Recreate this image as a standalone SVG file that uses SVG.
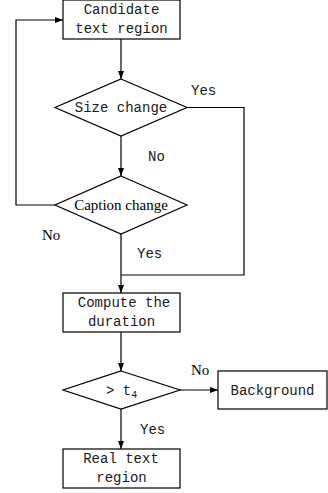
<svg xmlns="http://www.w3.org/2000/svg" width="328" height="493" viewBox="0 0 328 493">
<style>
.box{fill:#fff;stroke:#000;stroke-width:1.2}
.ln{fill:none;stroke:#000;stroke-width:1.2}
.m{font-family:"Liberation Mono",monospace;font-size:14px;fill:#1a1a1a}
.s{font-family:"Liberation Serif",serif;font-size:15px;fill:#000}
</style>
<defs>
<marker id="ah" viewBox="0 0 8 6" refX="8" refY="3" markerWidth="8" markerHeight="6" markerUnits="userSpaceOnUse" orient="auto">
<path d="M0,0 L8,3 L0,6 Z" fill="#000"/>
</marker>
</defs>
<rect width="328" height="493" fill="#fff"/>
<g id="connectors">
<line class="ln" x1="121" y1="39" x2="121" y2="79" marker-end="url(#ah)"/>
<line class="ln" x1="121" y1="136" x2="121" y2="176" marker-end="url(#ah)"/>
<polyline class="ln" points="187,107.5 244,107.5 244,275 121,275"/>
<polyline class="ln" points="55,205 16,205 16,20 63,20" marker-end="url(#ah)"/>
<line class="ln" x1="121" y1="234" x2="121" y2="293" marker-end="url(#ah)"/>
<line class="ln" x1="121" y1="332" x2="121" y2="371" marker-end="url(#ah)"/>
<line class="ln" x1="180" y1="390" x2="218" y2="390" marker-end="url(#ah)"/>
<line class="ln" x1="121" y1="409" x2="121" y2="449" marker-end="url(#ah)"/>
<text class="m" x="191" y="95">Yes</text>
<text class="m" x="148" y="161">No</text>
<text class="s" x="42" y="240">No</text>
<text class="m" x="137" y="258">Yes</text>
<text class="s" x="191" y="375">No</text>
<text class="m" x="140" y="434">Yes</text>
</g>
<g id="candidate">
<rect class="box" x="63" y="0" width="117" height="39"/>
<text class="m" x="121.5" y="14" text-anchor="middle">Candidate</text>
<text class="m" x="121.5" y="33" text-anchor="middle">text region</text>
</g>
<g id="size-change">
<polygon class="box" points="121,79 187,107.5 121,136 55,107.5"/>
<text class="m" x="121" y="112" text-anchor="middle">Size change</text>
</g>
<g id="caption-change">
<polygon class="box" points="121,176 187,205 121,234 55,205"/>
<text class="s" x="121" y="210" text-anchor="middle">Caption change</text>
</g>
<g id="compute">
<rect class="box" x="63" y="293" width="117" height="39"/>
<text class="m" x="124" y="307" text-anchor="middle">Compute the</text>
<text class="m" x="121.5" y="326" text-anchor="middle">duration</text>
</g>
<g id="threshold">
<polygon class="box" points="121,371 180,390 121,409 63,390"/>
<text class="m" x="106" y="395">&gt; t<tspan font-size="10" dy="3">4</tspan></text>
</g>
<g id="background">
<rect class="box" x="218" y="371" width="109" height="38"/>
<text class="m" x="272.5" y="395" text-anchor="middle">Background</text>
</g>
<g id="real-text">
<rect class="box" x="63" y="449" width="117" height="39"/>
<text class="m" x="121" y="463" text-anchor="middle">Real text</text>
<text class="m" x="121.5" y="482" text-anchor="middle">region</text>
</g>
</svg>
